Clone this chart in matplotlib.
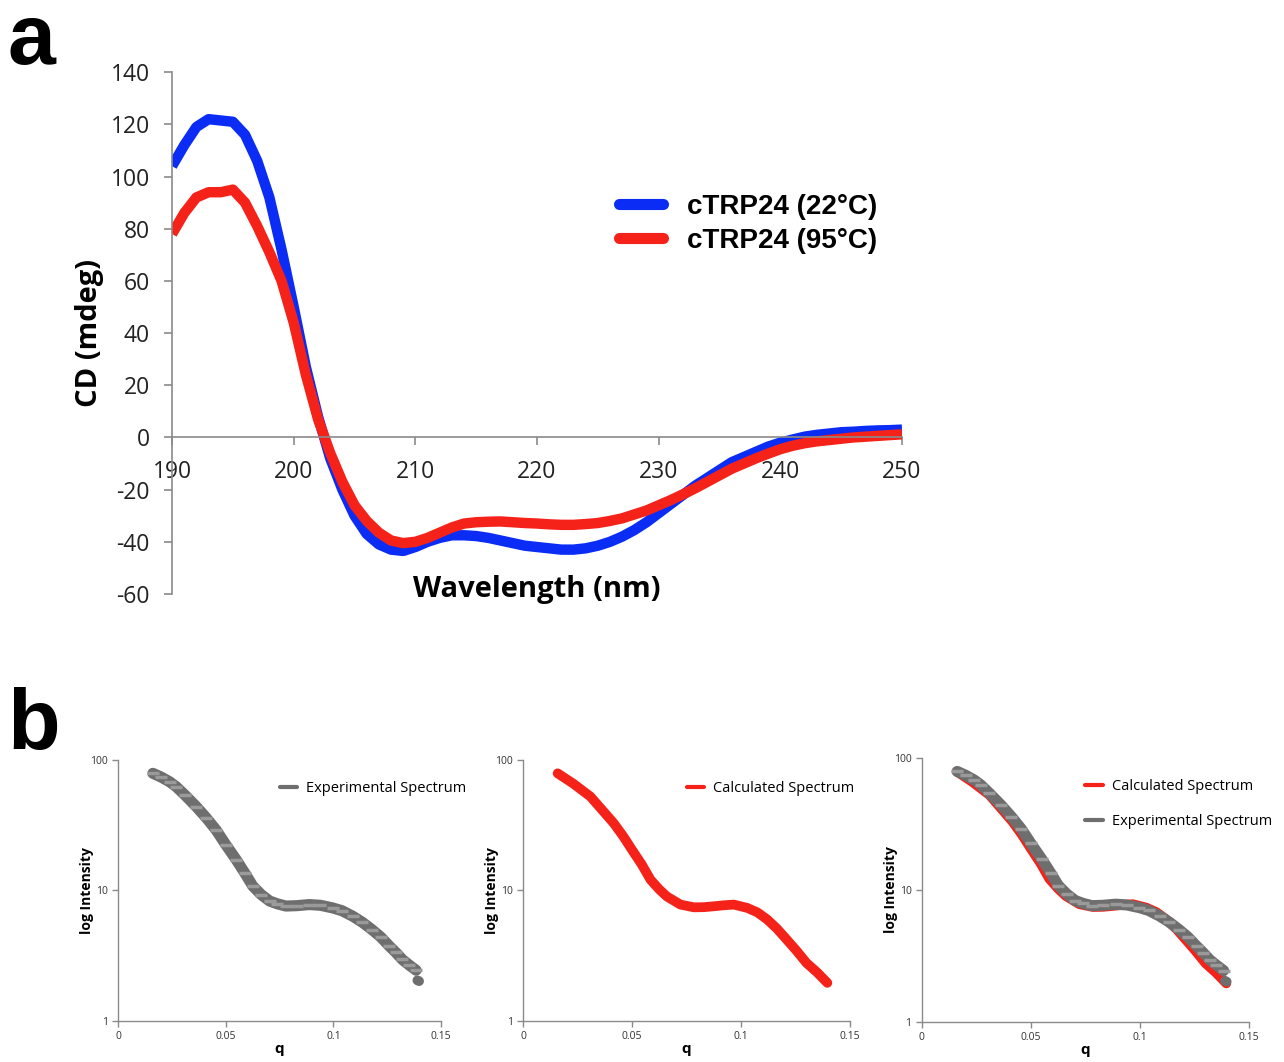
import matplotlib
matplotlib.use("Agg")
import matplotlib.pyplot as plt
import numpy as np

# ---------------- Panel a data (CD spectra) ----------------
wavelength = [190, 191, 192, 193, 194, 195, 196, 197, 198, 199, 200, 201, 202, 203, 204,
              205, 206, 207, 208, 209, 210, 211, 212, 213, 214, 215, 216, 217, 218, 219,
              220, 221, 222, 223, 224, 225, 226, 227, 228, 229, 230, 231, 232, 233, 234,
              235, 236, 237, 238, 239, 240, 241, 242, 243, 244, 245, 246, 247, 248, 249, 250]
cd_22 = [104, 112, 119, 122, 121.5, 121, 116, 106, 92, 72, 50, 27, 8, -8, -20,
         -30, -37, -41, -43, -43.5, -42, -40, -38.5, -37.5, -37.5, -37.8, -38.5, -39.5, -40.5, -41.5,
         -42, -42.5, -43, -43, -42.5, -41.5, -40, -38, -35.5, -32.5, -29, -25.5, -22, -18.5, -15.5,
         -12.5, -9.5, -7.5, -5.5, -3.5, -2, -0.8, 0.3, 1, 1.5, 2, 2.2, 2.5, 2.7, 2.8, 3]
cd_95 = [78, 86, 92, 94, 94, 95, 90, 81, 71, 60, 44, 24, 7, -6, -17,
         -26, -32, -36.5, -39.5, -40.5, -40, -38.5, -36.5, -34.5, -33, -32.5, -32.3, -32.2, -32.5, -32.8,
         -33, -33.3, -33.5, -33.5, -33.2, -32.8, -32, -31, -29.5, -28, -26, -24, -21.8, -19.5, -17,
         -14.5, -12, -10, -8, -6.2, -4.5, -3.2, -2.2, -1.5, -1, -0.5, 0, 0.3, 0.6, 0.9, 1.2]
series_a_labels = ["cTRP24 (22°C)", "cTRP24 (95°C)"]

# ---------------- Panel b data (SAXS) ----------------
q_calc = [0.0159, 0.0230, 0.0309, 0.0360, 0.0416, 0.0460, 0.0500, 0.0545, 0.0585, 0.0625, 0.0660,
          0.0722, 0.0784, 0.0830, 0.0876, 0.0920, 0.0967, 0.1029, 0.1075, 0.1120, 0.1165, 0.1210,
          0.1255, 0.1300, 0.1350, 0.1396]
i_calc = [79, 66, 52.5, 42, 32.8, 26, 20.5, 15.8, 12.1, 10.2, 9.0, 7.8, 7.43, 7.45, 7.57, 7.7,
          7.8, 7.35, 6.8, 6.0, 5.1, 4.2, 3.45, 2.79, 2.35, 1.96]
q_exp = [0.0162, 0.0200, 0.0240, 0.0270, 0.0310, 0.0363, 0.0410, 0.0456, 0.0500, 0.0549, 0.0590,
         0.0626, 0.0665, 0.0704, 0.0740, 0.0780, 0.0830, 0.0889, 0.0940, 0.0997, 0.1040, 0.1090,
         0.1135, 0.1180, 0.1220, 0.1260, 0.1290, 0.1320, 0.1350, 0.1384]
i_exp = [79, 74, 68, 62.5, 54, 44, 36, 29, 22.5, 17.2, 13.5, 10.8, 9.3, 8.3, 7.9, 7.6, 7.65, 7.8,
         7.7, 7.35, 7.0, 6.35, 5.7, 5.0, 4.4, 3.75, 3.35, 2.96, 2.7, 2.45]
q_exp_tail = [0.1390, 0.1398]
i_exp_tail = [2.05, 2.02]

GREY = "#8a8a8a"
EXP_COL = "#6e6e6e"

plt.rcParams['axes.unicode_minus'] = False
plt.rcParams['font.family'] = ['Open Sans', 'DejaVu Sans']
fig = plt.figure(figsize=(12.84, 10.62), dpi=100)

# ---------------- Panel a ----------------
axa = fig.add_axes([0.134, 0.4407, 0.5685, 0.4913])
axa.plot(wavelength, cd_22, color="#0a2cf5", lw=7.5, solid_capstyle='butt', solid_joinstyle='round',
         label=series_a_labels[0])
axa.plot(wavelength, cd_95, color="#f5221a", lw=7.5, solid_capstyle='butt', solid_joinstyle='round',
         label=series_a_labels[1])
axa.set_xlim(190, 250)
axa.set_ylim(-60, 140)
axa.set_yticks(np.arange(-60, 141, 20))
axa.set_xticks(np.arange(190, 251, 10))
for s in ['top', 'right']:
    axa.spines[s].set_visible(False)
axa.spines['bottom'].set_position(('data', 0))
for s in ['left', 'bottom']:
    axa.spines[s].set_color(GREY)
    axa.spines[s].set_linewidth(1.2)
axa.tick_params(axis='both', colors=GREY, labelcolor='#222222', labelsize=16.5, length=6, width=1.2,
                direction='out')
axa.tick_params(axis='y', pad=10)
axa.tick_params(axis='x', pad=10)
axa.set_ylabel("CD (mdeg)", fontsize=21, fontweight='bold', labelpad=5)
axa.text(0.5, 0.008, "Wavelength (nm)", transform=axa.transAxes, ha='center', va='center',
         fontsize=21, fontweight='bold')
leg = axa.legend(loc='upper left', bbox_to_anchor=(0.578, 0.815), frameon=False,
                 prop={'family': ['Liberation Sans'], 'weight': 'bold', 'size': 20},
                 handlelength=1.6, handletextpad=0.85, labelspacing=0.3)
for h in leg.get_lines():
    h.set_linewidth(8)
    h.set_solid_capstyle('round')

fig.text(0.006, 0.94, "a", fontsize=62, fontweight='bold', family=['Liberation Sans'])
fig.text(0.006, 0.295, "b", fontsize=62, fontweight='bold', family=['Liberation Sans'])

# ---------------- Panel b ----------------
b_positions = [[0.0919, 0.0386, 0.2516, 0.2458],
               [0.4073, 0.0386, 0.2547, 0.2458],
               [0.7180, 0.0377, 0.2547, 0.2486]]

def style_b(ax):
    ax.set_yscale('log')
    ax.set_xlim(0, 0.15)
    ax.set_ylim(1, 100)
    ax.set_xticks([0, 0.05, 0.1, 0.15])
    ax.set_xticklabels(["0", "0.05", "0.1", "0.15"])
    ax.set_yticks([1, 10, 100])
    ax.set_yticklabels(["1", "10", "100"])
    ax.yaxis.set_minor_locator(matplotlib.ticker.NullLocator())
    for s in ['top', 'right']:
        ax.spines[s].set_visible(False)
    for s in ['left', 'bottom']:
        ax.spines[s].set_color(GREY)
        ax.spines[s].set_linewidth(1.0)
    ax.tick_params(axis='both', colors=GREY, labelcolor='#333333', labelsize=7.5, length=4,
                   width=1.0, direction='out')
    ax.set_ylabel("log Intensity", fontsize=10, fontweight='bold', labelpad=-3)
    ax.set_xlabel("q", fontsize=11, fontweight='bold', labelpad=0)

def plot_exp(ax):
    ax.plot(q_exp, i_exp, color=EXP_COL, lw=8, marker='_', ms=9, mew=2.5, mec='#9a9a9a',
            solid_capstyle='round', solid_joinstyle='round', label="Experimental Spectrum")
    ax.plot(q_exp_tail, i_exp_tail, color=EXP_COL, lw=7, solid_capstyle='round')

def plot_calc(ax):
    ax.plot(q_calc, i_calc, color="#f5221a", lw=7, solid_capstyle='round', solid_joinstyle='round',
            label="Calculated Spectrum")

ax1 = fig.add_axes(b_positions[0])
plot_exp(ax1)
style_b(ax1)
l1 = ax1.legend(loc='upper left', bbox_to_anchor=(0.46, 0.97), frameon=False, fontsize=10.5,
                handlelength=1.2, handletextpad=0.6)

ax2 = fig.add_axes(b_positions[1])
plot_calc(ax2)
style_b(ax2)
l2 = ax2.legend(loc='upper left', bbox_to_anchor=(0.46, 0.97), frameon=False, fontsize=10.5,
                handlelength=1.2, handletextpad=0.6)

ax3 = fig.add_axes(b_positions[2])
plot_calc(ax3)
plot_exp(ax3)
style_b(ax3)
l3 = ax3.legend(loc='upper left', bbox_to_anchor=(0.46, 0.97), frameon=False, fontsize=10.5,
                handlelength=1.2, handletextpad=0.6, labelspacing=1.4)

for lg in (l1, l2, l3):
    for h in lg.get_lines():
        h.set_linewidth(3)
        h.set_marker('')

fig.savefig("out.png", dpi=100)
